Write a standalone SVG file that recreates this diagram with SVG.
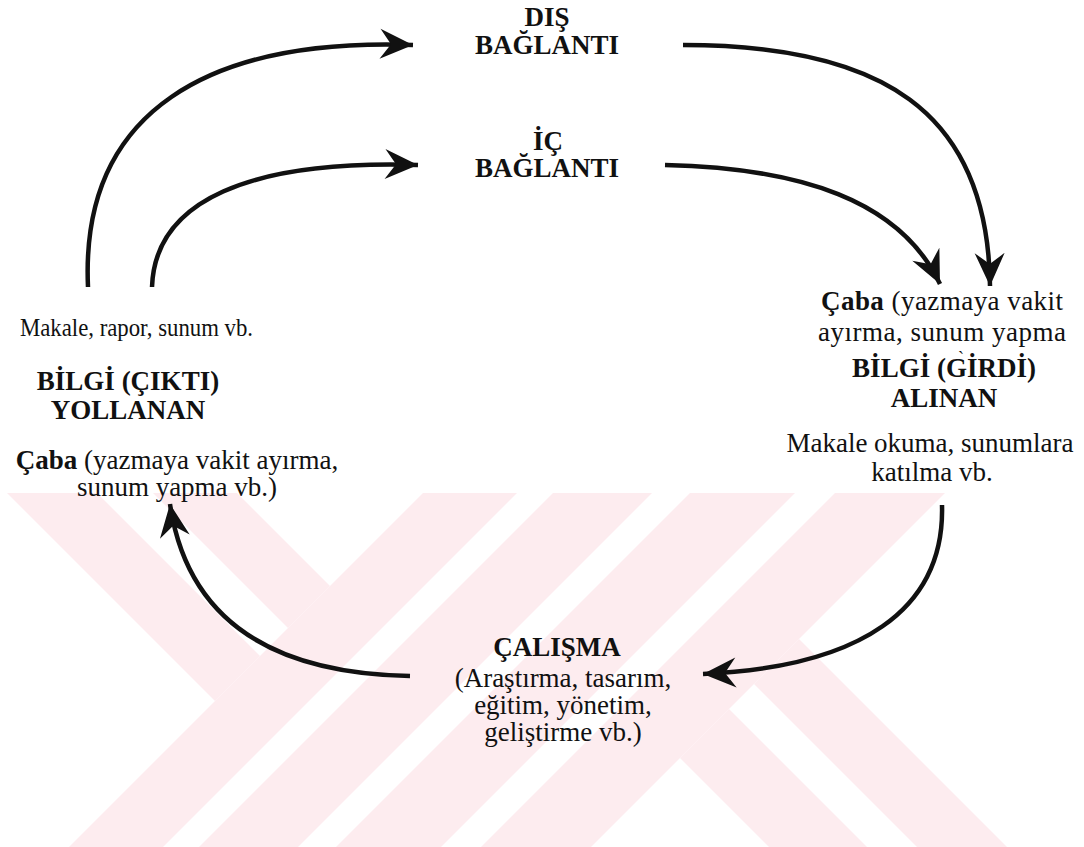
<svg xmlns="http://www.w3.org/2000/svg" width="1084" height="847" viewBox="0 0 1084 847">
  <defs>
    <style>
      .t { font-family: 'Liberation Serif', 'Times New Roman', 'DejaVu Serif', serif; fill: #111; font-size: 27px; }
      .b { font-weight: bold; }
      .m { text-anchor: middle; }
      .wm { fill: #fdecef; }
      .arc { fill: none; stroke: #111; stroke-width: 4.5; }
    </style>
    <marker id="head" markerUnits="userSpaceOnUse" markerWidth="36" markerHeight="34" viewBox="-34 -17 36 34" refX="0" refY="0" orient="auto">
      <path d="M0,0 L-33,-15 L-22,0 L-33,15 Z" fill="#111"/>
    </marker>
    <clipPath id="wmclip">
      <rect x="0" y="493" width="1084" height="354"/>
    </clipPath>
  </defs>

  <rect width="1084" height="847" fill="#ffffff"/>

  <!-- background watermark stripes -->
  <g id="watermark" class="wm" clip-path="url(#wmclip)">
    <polygon points="-86,400 4,400 260,656 215,701"/>
    <polygon points="60,400 144,400 330,586 288,628"/>
    <polygon points="516,400 610,400 110,900 16,900"/>
    <polygon points="646,400 745,400 245,900 146,900"/>
    <polygon points="783,400 888,400 388,900 283,900"/>
    <polygon points="928,400 1038,400 538,900 428,900"/>
    <polygon points="680,758 729,709 920,900 822,900"/>
    <polygon points="754,684 799,639 1060,900 970,900"/>
  </g>

  <!-- connectors -->
  <g id="connectors">
    <path class="arc" d="M88,287 C80,110 210,38 413,45" marker-end="url(#head)"/>
    <path class="arc" d="M152,287 C155,200 250,160 418,165" marker-end="url(#head)"/>
    <path class="arc" d="M683,45 C880,45 988,110 990,286" marker-end="url(#head)"/>
    <path class="arc" d="M665,165 C800,168 900,200 940,284" marker-end="url(#head)"/>
    <path class="arc" d="M942,505 C945,610 860,667 703,674" marker-end="url(#head)"/>
    <path class="arc" d="M410,676 C300,674 190,640 170,504" marker-end="url(#head)"/>
  </g>

  <g class="t">
    <g id="dis-baglanti">
      <text class="t b m" x="547" y="26">DIŞ</text>
      <text class="t b m" x="547" y="54">BAĞLANTI</text>
    </g>

    <g id="ic-baglanti">
      <text class="t b m" x="548" y="150">İÇ</text>
      <text class="t b m" x="547" y="177">BAĞLANTI</text>
    </g>

    <g id="bilgi-yollanan">
      <text class="t" x="20" y="336" style="font-size:26px" textLength="233" lengthAdjust="spacingAndGlyphs">Makale, rapor, sunum vb.</text>
      <text class="t b m" x="128" y="390">BİLGİ (ÇIKTI)</text>
      <text class="t b m" x="128" y="419">YOLLANAN</text>
      <text class="t m" x="177" y="469"><tspan class="b">Çaba</tspan> (yazmaya vakit ayırma,</text>
      <text class="t m" x="177" y="496">sunum yapma vb.)</text>
    </g>

    <g id="bilgi-alinan">
      <text class="t m" x="942" y="310" textLength="242"><tspan class="b">Çaba</tspan> (yazmaya vakit</text>
      <text class="t m" x="942" y="341" textLength="248">ayırma, sunum yapma</text>
      <text class="t b m" x="944" y="377">BİLGİ (GİRDİ)</text>
      <text class="t" x="958" y="364" style="font-size:18px">`</text>
      <text class="t b m" x="944" y="407">ALINAN</text>
      <text class="t m" x="930" y="452">Makale okuma, sunumlara</text>
      <text class="t m" x="932" y="481">katılma vb.</text>
    </g>

    <g id="calisma">
      <text class="t b m" x="557" y="656">ÇALIŞMA</text>
      <text class="t m" x="563" y="687">(Araştırma, tasarım,</text>
      <text class="t m" x="563" y="714">eğitim, yönetim,</text>
      <text class="t m" x="563" y="741">geliştirme vb.)</text>
    </g>
  </g>
</svg>
